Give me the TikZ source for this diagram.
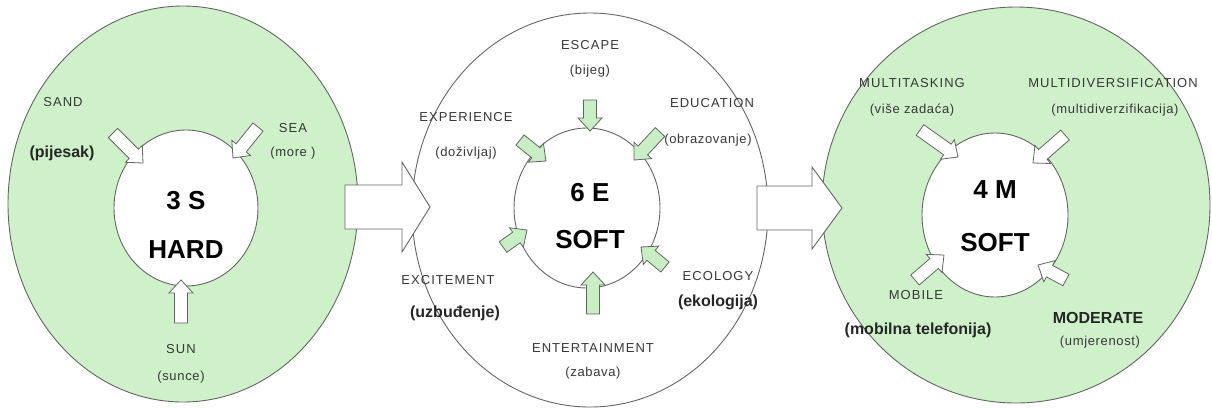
\documentclass[tikz,border=0pt]{standalone}
\usepackage{fontspec}
\setmainfont{Liberation Sans}
\newfontfamily\capsfont[LetterSpace=8]{Liberation Sans}
\newfontfamily\parenfont[LetterSpace=5]{Liberation Sans}
\usetikzlibrary{shapes.geometric}
\definecolor{lgreen}{RGB}{206,241,201}
\definecolor{agreen}{RGB}{200,238,196}
\definecolor{edgegray}{RGB}{100,100,100}
\definecolor{labgray}{RGB}{55,55,55}
\newcommand{\blkarrow}[8]{%
  \pgfmathsetmacro{\baang}{atan2((#5)-(#3),(#4)-(#2))}%
  \pgfmathsetmacro{\balen}{veclen((#4)-(#2),(#5)-(#3))}%
  \pgfmathsetmacro{\bahs}{\balen-#8}%
  \draw[#1, shift={(#2,#3)}, rotate=\baang] (0,-#6) -- (\bahs,-#6) -- (\bahs,-#7) -- (\balen,0) -- (\bahs,#7) -- (\bahs,#6) -- (0,#6) -- cycle;}
\tikzset{
  outerc/.style={ellipse, draw=edgegray, line width=0.9pt, inner sep=0pt},
  innerc/.style={ellipse, draw=edgegray, line width=0.9pt, fill=white, inner sep=0pt},
  whitearrow/.style={draw=edgegray, line width=0.8pt, fill=white, line join=miter},
  greenarrow/.style={draw=edgegray, line width=0.8pt, fill=agreen, line join=miter},
  bigarrow/.style={draw=edgegray, line width=0.9pt, fill=white, line join=miter},
  capslab/.style={font=\capsfont\fontsize{13}{15}\selectfont, text=labgray, inner sep=0pt},
  parenlab/.style={font=\parenfont\fontsize{13}{15}\selectfont, text=labgray, inner sep=0pt},
  boldlab/.style={font=\fontsize{16}{18}\selectfont\bfseries, text=black!85, inner sep=0pt},
  bigtext/.style={font=\fontsize{26}{30}\selectfont\bfseries, text=black, inner sep=0pt}
}
\begin{document}
\begin{tikzpicture}[x=1pt,y=1pt]
\useasboundingbox (0,0) rectangle (1212,-408);
% outer circles
\node[outerc, fill=lgreen, minimum width=350pt, minimum height=396pt] (outerL) at (183,-204) {};
\node[outerc, fill=white, minimum width=356pt, minimum height=394pt] (outerM) at (590,-210) {};
\node[outerc, fill=lgreen, minimum width=388pt, minimum height=396pt] (outerR) at (1016,-205) {};
% inner circles
\node[innerc, minimum width=144pt, minimum height=156pt] (innerL) at (186,-208) {};
\node[innerc, minimum width=146pt, minimum height=160pt] (innerM) at (587,-208) {};
\node[innerc, minimum width=146pt, minimum height=164pt] (innerR) at (995,-215) {};
% big arrows
\blkarrow{bigarrow}{345}{-207}{430}{-207}{22}{45}{28}
\blkarrow{bigarrow}{757}{-208}{842}{-208}{22}{41}{30}
% left small arrows
\blkarrow{whitearrow}{113}{-133}{143}{-163}{6.5}{12}{13}
\blkarrow{whitearrow}{258}{-127}{233}{-158}{6.5}{12}{13}
\blkarrow{whitearrow}{181}{-323}{181}{-280}{6.5}{12}{13}
% middle small arrows
\blkarrow{greenarrow}{590}{-100}{590}{-131}{6.5}{12}{13}
\blkarrow{greenarrow}{660}{-132}{634}{-160}{6.5}{12}{13}
\blkarrow{greenarrow}{520}{-140}{546}{-161}{6.5}{12}{13}
\blkarrow{greenarrow}{503}{-247}{527}{-230}{6.5}{12}{13}
\blkarrow{greenarrow}{665}{-267}{641}{-247}{6.5}{12}{13}
\blkarrow{greenarrow}{593}{-314}{593}{-272}{6.5}{12}{13}
% right small arrows
\blkarrow{whitearrow}{920}{-130}{958}{-157}{6.5}{12}{13}
\blkarrow{whitearrow}{1065}{-135}{1033}{-163}{6.5}{12}{13}
\blkarrow{whitearrow}{915}{-280}{944}{-255}{6.5}{12}{13}
\blkarrow{whitearrow}{1066}{-280}{1038}{-265}{6.5}{12}{13}
% left texts
\node[capslab] (sand) at (63,-102) {SAND};
\node[boldlab] (sandp) at (62,-153) {(pijesak)};
\node[capslab] (sea) at (293,-128) {SEA};
\node[parenlab] (seap) at (293,-153) {(more )};
\node[bigtext] (threeS) at (186,-201) {3 S};
\node[bigtext] (hard) at (186,-250) {HARD};
\node[capslab] (sun) at (181,-349) {SUN};
\node[parenlab] (sunp) at (181,-377) {(sunce)};
% middle texts
\node[capslab] (escape) at (590,-45) {ESCAPE};
\node[parenlab] (escapep) at (590,-71) {(bijeg)};
\node[capslab] (experience) at (466,-117) {EXPERIENCE};
\node[parenlab] (experiencep) at (466,-153) {(doživljaj)};
\node[capslab] (education) at (712,-103) {EDUCATION};
\node[parenlab] (educationp) at (708,-140) {(obrazovanje)};
\node[bigtext] (sixE) at (590,-193) {6 E};
\node[bigtext] (softM) at (590,-240) {SOFT};
\node[capslab] (excitement) at (448,-280) {EXCITEMENT};
\node[boldlab] (excitementp) at (455,-313) {(uzbuđenje)};
\node[capslab] (ecology) at (718,-276) {ECOLOGY};
\node[boldlab] (ecologyp) at (718,-302) {(ekologija)};
\node[capslab] (entertainment) at (593,-348) {ENTERTAINMENT};
\node[parenlab] (entertainmentp) at (593,-373) {(zabava)};
% right texts
\node[capslab] (multitasking) at (912,-83) {MULTITASKING};
\node[parenlab] (multitaskingp) at (912,-110) {(više zadaća)};
\node[capslab] (multidiv) at (1113,-83) {MULTIDIVERSIFICATION};
\node[parenlab] (multidivp) at (1115,-110) {(multidiverzifikacija)};
\node[bigtext] (fourM) at (995,-190) {4 M};
\node[bigtext] (softR) at (995,-243) {SOFT};
\node[capslab] (mobile) at (916,-295) {MOBILE};
\node[boldlab] (mobilep) at (918,-330) {(mobilna telefonija)};
\node[boldlab] (moderate) at (1098,-318) {MODERATE};
\node[parenlab] (moderatep) at (1100,-342) {(umjerenost)};
\end{tikzpicture}
\end{document}
